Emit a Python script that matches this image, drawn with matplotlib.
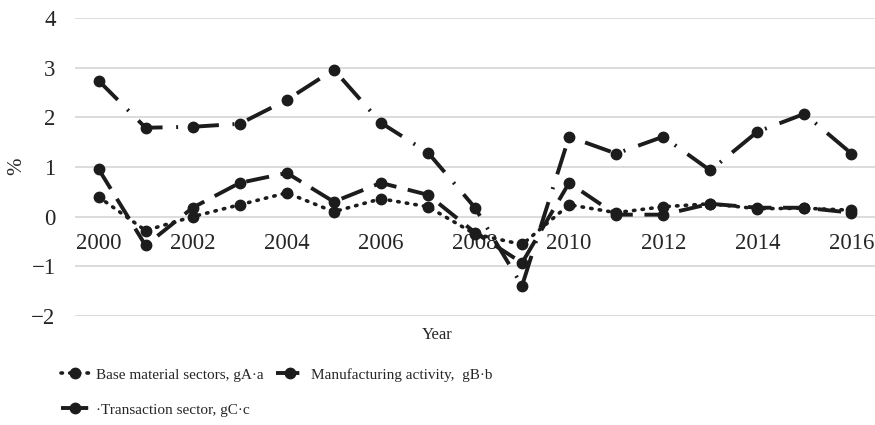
import matplotlib
matplotlib.use("Agg")
import matplotlib.pyplot as plt

years = list(range(2000, 2017))
base_material = [0.40, -0.28, 0.00, 0.24, 0.48, 0.10, 0.36, 0.20, -0.35, -0.56,
                 0.24, 0.08, 0.20, 0.26, 0.16, 0.17, 0.13]
manufacturing = [0.96, -0.58, 0.18, 0.68, 0.88, 0.30, 0.68, 0.44, -0.32, -0.93,
                 0.68, 0.04, 0.04, 0.26, 0.18, 0.18, 0.08]
transaction = [2.74, 1.79, 1.81, 1.87, 2.35, 2.96, 1.89, 1.29, 0.18, -1.39,
               1.61, 1.27, 1.61, 0.93, 1.71, 2.07, 1.27]
labels = ["Base material sectors, gA\u00b7a",
          "Manufacturing activity,  gB\u00b7b",
          "\u00b7Transaction sector, gC\u00b7c"]

plt.rcParams['font.family'] = ['Liberation Serif', 'DejaVu Serif']

fig = plt.figure(figsize=(8.75, 4.25), dpi=100)
ax = fig.add_axes([75 / 875, 1 - 316 / 425, 800 / 875, 298 / 425])

col = '#1c1c1c'
la, = ax.plot(years, base_material, color=col, lw=2.6, linestyle=(0, (0.4, 2.0)),
              dash_capstyle='round', marker='o', ms=7.5, label=labels[0])
lb, = ax.plot(years, manufacturing, color=col, lw=2.8, linestyle=(0, (6, 3)),
              marker='o', ms=7.5, label=labels[1])
lc, = ax.plot(years, transaction, color=col, lw=2.8, linestyle=(0, (7, 3.5, 0.5, 3.5)),
              marker='o', ms=7.5, label=labels[2])

ax.set_xlim(1999.5, 2016.5)
ax.set_ylim(-2, 4)
ax.set_yticks(range(-2, 5))
ax.set_yticklabels([str(v).replace('-', '\u2212') for v in range(-2, 5)])
ax.set_xticks(range(2000, 2017, 2))
ax.grid(axis='y', color='#d9d9d9', lw=1.3)
ax.set_axisbelow(True)
for s in ['top', 'right', 'left']:
    ax.spines[s].set_visible(False)
ax.spines['bottom'].set_position(('data', 0))
ax.spines['bottom'].set_visible(False)
ax.tick_params(axis='both', length=0, labelsize=16.5, colors='#262626')
ax.tick_params(axis='x', pad=12)
ax.tick_params(axis='y', pad=14)

fig.text(17 / 875, 1 - 166 / 425, '%', rotation=90, ha='center', va='center',
         fontsize=15, color='#262626')
fig.text(437 / 875, 1 - 335 / 425, 'Year', ha='center', va='center',
         fontsize=12, color='#262626')

fig.legend([la, lc, lb], [labels[0], labels[2], labels[1]],
           loc='upper left', bbox_to_anchor=(47 / 875, 1 - 354 / 425), ncol=2,
           frameon=False, fontsize=11, handlelength=1.9, columnspacing=0.8,
           labelspacing=1.4, handletextpad=0.4, labelcolor='#262626')

fig.savefig('out.png', dpi=100)
